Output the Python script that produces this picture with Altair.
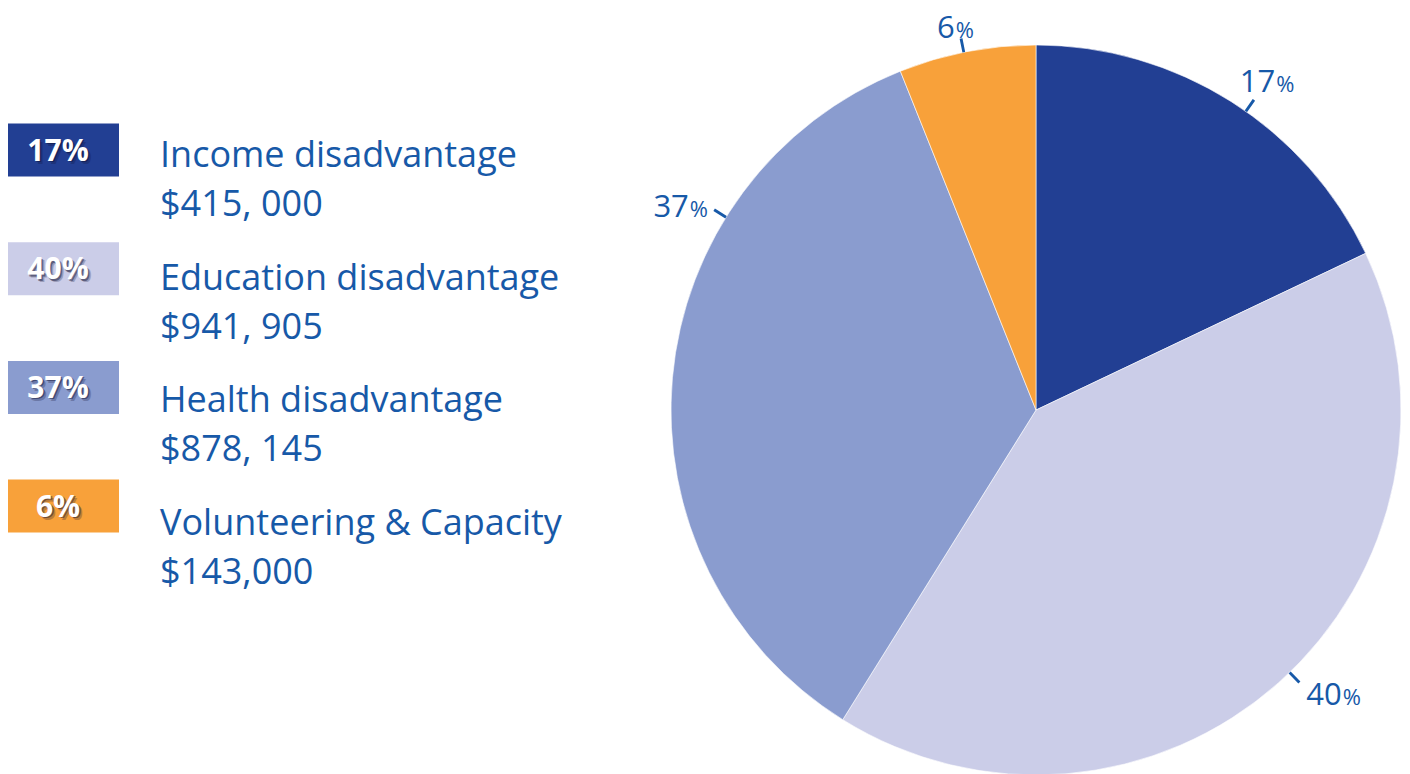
import altair as alt
import pandas as pd

# ---------------- data ----------------
categories = ["Income disadvantage", "Education disadvantage",
              "Health disadvantage", "Volunteering & Capacity"]
amount_labels = ["$415, 000", "$941, 905", "$878, 145", "$143,000"]
percent_labels = ["17", "40", "37", "6"]
# slice sizes (% of the circle) as drawn in the picture
slice_shares = [17.94, 40.94, 35.06, 6.06]
colors = ["#223F93", "#CBCDE8", "#8A9CCF", "#F8A13A"]

# ---------------- layout / style ----------------
FONT = "Open Sans"
TEXT = "#1759A8"
CX, CY, R = 1028, 402, 365
# angular nudge (deg, from the slice middle) and radius (px) of each outside label
label_nudge = [3.8, -5.3, 25.2, -1.1]
label_radius = [406, 418, 402, 391]
tick_nudge = [2.8, -2.3, 26.8, -0.5]

total = sum(slice_shares)
mids, cum = [], 0
for a in slice_shares:
    mids.append((cum + a / 2) / total * 360)
    cum += a

df = pd.DataFrame({
    "cat": categories,
    "share": slice_shares,
    "amount_label": amount_labels,
    "pct": [p + "%" for p in percent_labels],
    "num": percent_labels,
    "order": list(range(len(categories))),
    "label_angle": [m + n for m, n in zip(mids, label_nudge)],
    "label_r": label_radius,
    "tick_angle": [m + n for m, n in zip(mids, tick_nudge)],
})
df["t0"] = df["tick_angle"] - 0.22
df["t1"] = df["tick_angle"] + 0.22

color_enc = alt.Color("cat:N", scale=alt.Scale(domain=categories, range=colors), legend=None)
deg = alt.Scale(domain=[0, 360], range=[0, 6.283185307179586])
base = alt.Chart(df)

# pie
pie = base.mark_arc(radius=R, stroke="white", strokeWidth=0.6).encode(
    theta=alt.Theta("share:Q", stack=True),
    order=alt.Order("order:Q"),
    color=color_enc,
    x=alt.value(CX), y=alt.value(CY),
)

ticks = base.mark_arc(radius=379, radius2=R, color=TEXT).encode(
    theta=alt.Theta("t0:Q", scale=deg, stack=None),
    theta2="t1:Q",
    x=alt.value(CX), y=alt.value(CY),
)

lab_num = base.mark_text(align="right", baseline="alphabetic", dy=10, fontSize=31,
                         font=FONT, color=TEXT).encode(
    theta=alt.Theta("label_angle:Q", scale=deg, stack=None),
    radius=alt.Radius("label_r:Q", scale=None),
    text="num:N",
    x=alt.value(CX), y=alt.value(CY),
)
lab_pct = base.mark_text(align="left", baseline="alphabetic", dy=10, dx=1, fontSize=22,
                         font=FONT, color=TEXT).encode(
    theta=alt.Theta("label_angle:Q", scale=deg, stack=None),
    radius=alt.Radius("label_r:Q", scale=None),
    text=alt.value("%"),
    x=alt.value(CX), y=alt.value(CY),
)

# legend boxes (band scale) and their centres (point scale)
ybox = alt.Y("cat:N", sort=categories, axis=None,
             scale=alt.Scale(range=[115.5, 524.6], paddingInner=0.5535, paddingOuter=0))
yboxc = alt.Y("cat:N", sort=categories, axis=None,
              scale=alt.Scale(type="point", range=[142, 498.1], padding=0))
# legend text rows (baseline of first line)
ytxt = alt.Y("cat:N", sort=categories, axis=None,
             scale=alt.Scale(type="point", range=[159, 526.5], padding=0))

boxes = base.mark_rect().encode(x=alt.value(-3), x2=alt.value(111), y=ybox, color=color_enc)

shadow1 = base.mark_text(align="center", baseline="alphabetic", dx=3, dy=13.5, fontSize=30,
                         fontWeight="bold", font=FONT, color="#111133", opacity=0.25).encode(
    x=alt.value(50), y=yboxc, text="pct:N")
shadow2 = base.mark_text(align="center", baseline="alphabetic", dx=1.5, dy=12, fontSize=30,
                         fontWeight="bold", font=FONT, color="#111133", opacity=0.45).encode(
    x=alt.value(50), y=yboxc, text="pct:N")
box_txt = base.mark_text(align="center", baseline="alphabetic", dy=10.5, fontSize=30,
                         fontWeight="bold", font=FONT, color="white").encode(
    x=alt.value(50), y=yboxc, text="pct:N")

title_txt = base.mark_text(align="left", baseline="alphabetic", fontSize=36,
                           font=FONT, color=TEXT).encode(
    x=alt.value(152), y=ytxt, text="cat:N")
amt_txt = base.mark_text(align="left", baseline="alphabetic", dy=49, fontSize=36,
                         font=FONT, color=TEXT).encode(
    x=alt.value(152), y=ytxt, text="amount_label:N")

chart = alt.layer(
    pie, ticks, lab_num, lab_pct,
    boxes, shadow1, shadow2, box_txt, title_txt, amt_txt,
).resolve_scale(theta="independent", y="independent").properties(
    width=1394, height=766, padding=0, background="white",
    autosize=alt.AutoSizeParams(type="none"),
).configure_view(strokeWidth=0, stroke="transparent")

chart.save("out.html", embed_options={"renderer": "svg", "actions": False})
